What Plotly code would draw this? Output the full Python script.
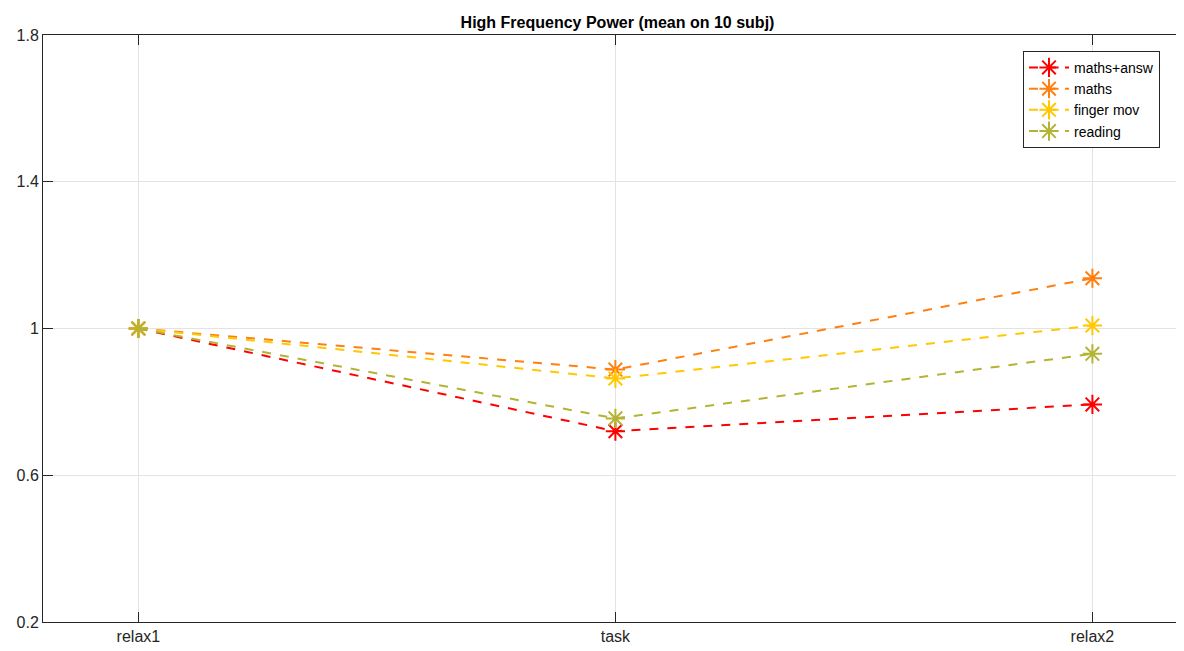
import plotly.graph_objs as go

"""
HF POWER, MEAN OVER 10 SUBJECTS, PER CONDITION
"""

phases = ['relax1', 'task', 'relax2']
x_pos = [1, 2, 3]

maths_answ = [1.0, 0.720, 0.793]
maths = [1.0, 0.888, 1.137]
finger_mov = [1.0, 0.864, 1.008]
reading = [1.0, 0.755, 0.931]

names = ['maths+answ', 'maths', 'finger mov', 'reading']
colors = ['#FF0000', '#FF8010', '#FFC800', '#B4B434']

axis_col = '#262626'
font = 'Liberation Sans, Arial, sans-serif'

# page body adds an 8px offset, margins compensate for it
W, H = 1184, 651
ml, mt, mb = 35, 27, 37
plot_w = W - ml

data = []
for name, vals, col in zip(names, [maths_answ, maths, finger_mov, reading], colors):
    data.append(go.Scatter(
        x=x_pos, y=vals, name=name, mode='lines+markers',
        line=dict(color=col, width=2, dash='dash'),
        marker=dict(symbol='asterisk-open', size=16, line=dict(color=col, width=2)),
    ))

layout = go.Layout(
    width=W, height=H,
    margin=dict(l=ml, r=0, t=mt, b=mb),
    paper_bgcolor='white', plot_bgcolor='white',
    font=dict(family=font, size=16, color=axis_col),
    title=dict(text='<b>High Frequency Power (mean on 10 subj)</b>',
               x=0.5, xref='paper', y=1 - 14 / H, yanchor='middle',
               font=dict(size=16, color='black')),
    xaxis=dict(range=[0.8, 0.8 + plot_w / 477], tickvals=x_pos, ticktext=phases,
               showline=True, linecolor=axis_col, linewidth=1, mirror='ticks',
               ticks='inside', ticklen=10, tickcolor=axis_col,
               showgrid=True, gridcolor='#e3e3e3', zeroline=False),
    yaxis=dict(range=[0.2, 1.8], tickvals=[0.2, 0.6, 1, 1.4, 1.8],
               ticktext=['0.2', '0.6', '1', '1.4', '1.8'],
               showline=True, linecolor=axis_col, linewidth=1, mirror='ticks',
               ticks='inside', ticklen=10, tickcolor=axis_col,
               showgrid=True, gridcolor='#e3e3e3', zeroline=False),
    legend=dict(x=(1023 - 43) / plot_w, y=0.973, xanchor='left', yanchor='top',
                bgcolor='white', bordercolor=axis_col, borderwidth=1,
                font=dict(size=14, color='black'), tracegroupgap=0,
                itemwidth=40),
    showlegend=True,
)

fig = go.Figure(data=data, layout=layout)
fig.write_html('out.html')
